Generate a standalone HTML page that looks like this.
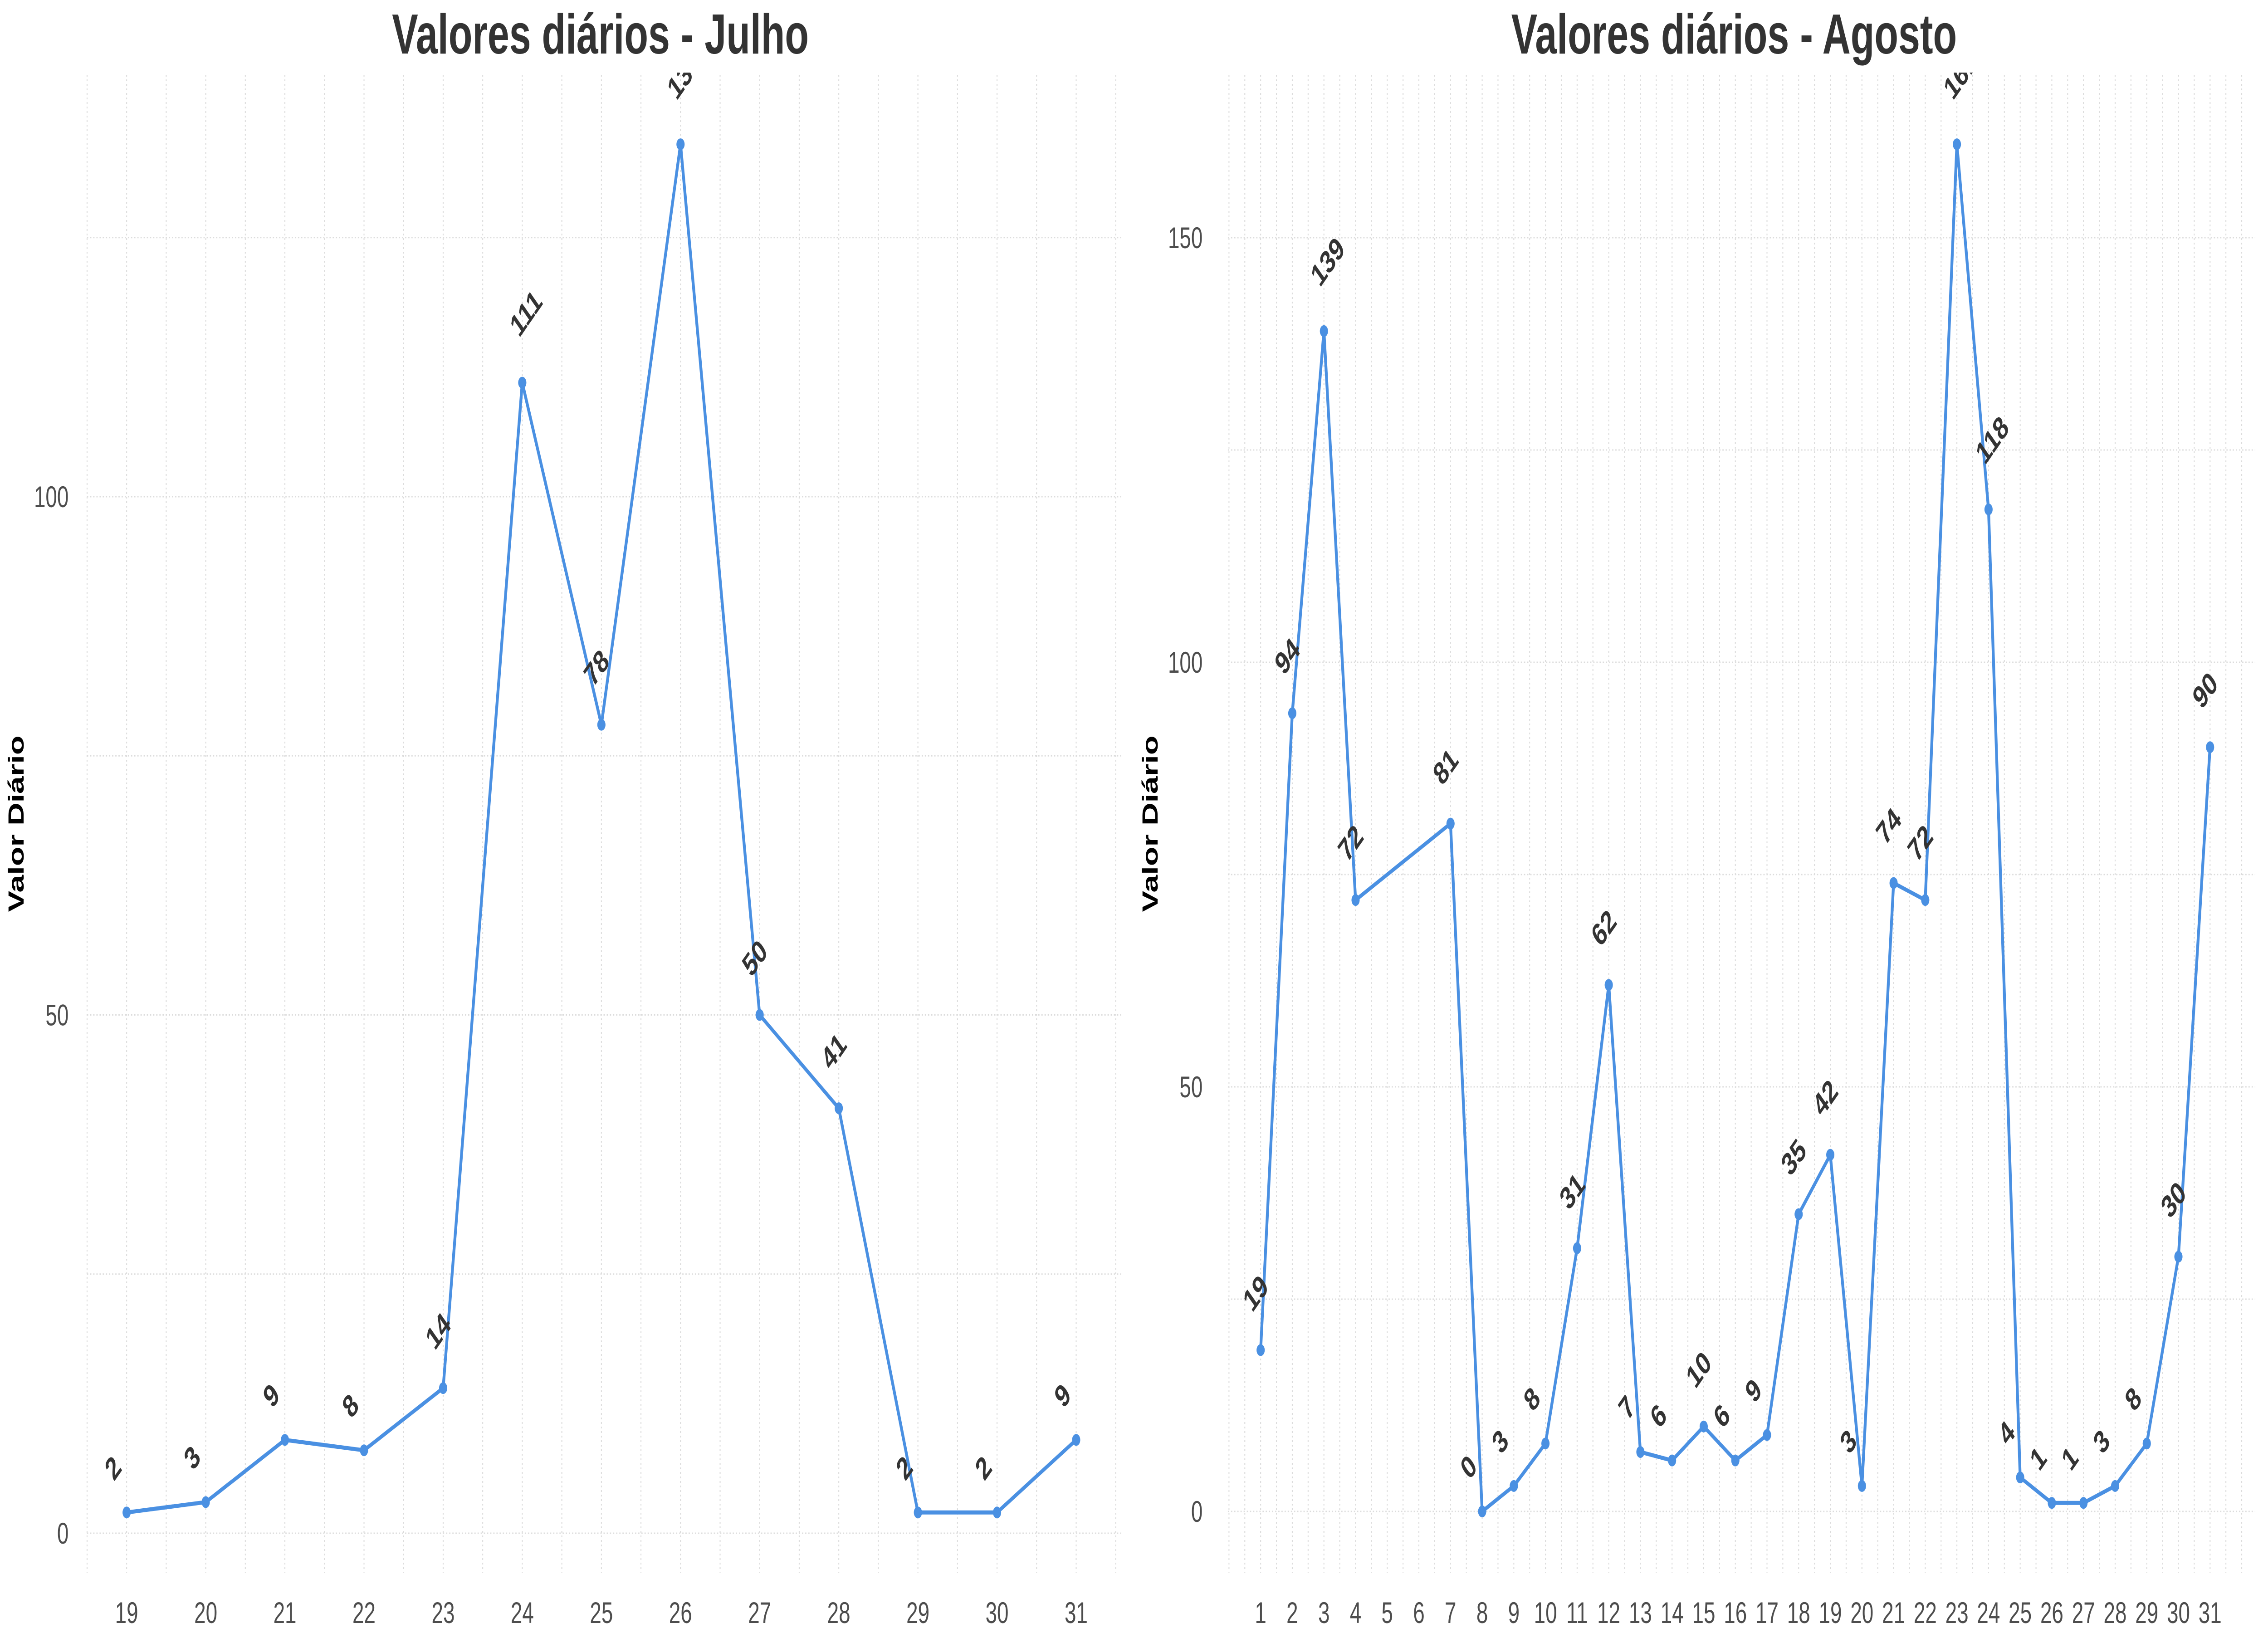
<!DOCTYPE html>
<html><head><meta charset="utf-8"><style>
html,body{margin:0;padding:0;background:#fff;width:100%;height:100%;overflow:hidden}
svg{display:block;width:100vw;height:100vh;font-family:"Liberation Sans",Arial,sans-serif}
</style></head><body>
<svg id="chart" viewBox="0 0 7200 3600" preserveAspectRatio="none"></svg>
<script>
const julDays=[19,20,21,22,23,24,25,26,27,28,29,30,31];
const julVals=[2,3,9,8,14,111,78,134,50,41,2,2,9];
const augDays=[1,2,3,4,7,8,9,10,11,12,13,14,15,16,17,18,19,20,21,22,23,24,25,26,27,28,29,30,31];
const augVals=[19,94,139,72,81,0,3,8,31,62,7,6,10,6,9,35,42,3,74,72,161,118,4,1,1,3,8,30,90];
const julYTicks=[0,50,100];
const augYTicks=[0,50,100,150];
const augXTicks=[1,2,3,4,5,6,7,8,9,10,11,12,13,14,15,16,17,18,19,20,21,22,23,24,25,26,27,28,29,30,31];

const NS="http://www.w3.org/2000/svg";
const svg=document.getElementById('chart');
function mk(tag,attrs,parent){const e=document.createElementNS(NS,tag);for(const k in attrs)e.setAttribute(k,attrs[k]);(parent||svg).appendChild(e);return e;}

function panel(cfg){
  const g=mk('g',{});
  
  
  const sx=v=>cfg.x0+(v-cfg.d0)*cfg.dx;
  const sy=v=>cfg.y0-v*cfg.dy;
  const grid=mk('g',{stroke:'#dcdcdc','stroke-width':3,'stroke-dasharray':'4 6'},g);
  
  
  for(let v=0;v*cfg.dy<cfg.y0-cfg.top;v+=25){mk('line',{x1:cfg.left,x2:cfg.right,y1:sy(v),y2:sy(v)},grid);}
  for(let d=cfg.xmin;d<=cfg.xmax;d+=0.5){const x=sx(d);if(x>=cfg.left&&x<=cfg.right)mk('line',{x1:x,x2:x,y1:cfg.top,y2:cfg.bottom},grid);}
  const t=mk('text',{x:cfg.tx,y:118,'text-anchor':'middle','font-size':124,'font-weight':'bold',fill:'#333'},g);
  t.textContent=cfg.title;
  
  
  const yt=mk('text',{x:0,y:0,transform:`translate(${cfg.ytx},${(cfg.top+cfg.bottom)/2}) rotate(-90)`,'text-anchor':'middle','font-size':70,'font-weight':'bold',fill:'#000'},g);
  yt.textContent='Valor Diário';
  
  
  cfg.yticks.forEach(v=>{const e=mk('text',{x:cfg.ylx,y:sy(v)+23,'text-anchor':'end','font-size':66,fill:'#4d4d4d'},g);e.textContent=v;
    
    });
  cfg.xticks.forEach(d=>{const e=mk('text',{x:sx(d),y:3578,'text-anchor':'middle','font-size':66,fill:'#4d4d4d'},g);e.textContent=d;
    
    });
  const cp=mk('clipPath',{id:cfg.name+'-clip'},g);
  mk('rect',{x:cfg.left-200,y:cfg.clipTop,width:cfg.right-cfg.left+400,height:cfg.bottom-cfg.clipTop+200},cp);
  const pts=cfg.days.map((d,i)=>sx(d)+','+sy(cfg.vals[i])).join(' ');
  const line=mk('polyline',{points:pts,fill:'none',stroke:'#4a90e2','stroke-width':9,'stroke-linejoin':'round'},g);
  
  
  const lg=mk('g',{'clip-path':`url(#${cfg.name}-clip)`},g);
  cfg.days.forEach((d,i)=>{
    const p=mk('circle',{cx:sx(d),cy:sy(cfg.vals[i]),r:13,fill:'#4a90e2'},g);
    
    
    const s=String(cfg.vals[i]);const n=s.length;
    const cx=sx(d)-71+27.5*n, cy=sy(cfg.vals[i])-71-27.5*n;
    const l=mk('text',{x:0,y:0,transform:`translate(${cx},${cy}) rotate(-45)`,'text-anchor':'middle','dominant-baseline':'central','font-size':70,'font-weight':'bold',fill:'#333'},lg);
    l.textContent=s;
    
    
  });
}
panel({name:'july-panel',title:'Valores diários - Julho',tx:1906,x0:402,d0:19,dx:251.2,y0:3380,dy:22.85,
  left:276,right:3559,top:165,bottom:3467,clipTop:160,xmin:18,xmax:32,ytx:75,ylx:218,
  yticks:julYTicks,xticks:julDays,days:julDays,vals:julVals});
panel({name:'august-panel',title:'Valores diários - Agosto',tx:5505,x0:4002,d0:1,dx:100.47,y0:3332,dy:18.72,
  left:3898,right:7159,top:165,bottom:3467,clipTop:160,xmin:-1,xmax:33,ytx:3675,ylx:3818,
  yticks:augYTicks,xticks:augXTicks,days:augDays,vals:augVals});
</script>
</body></html>
